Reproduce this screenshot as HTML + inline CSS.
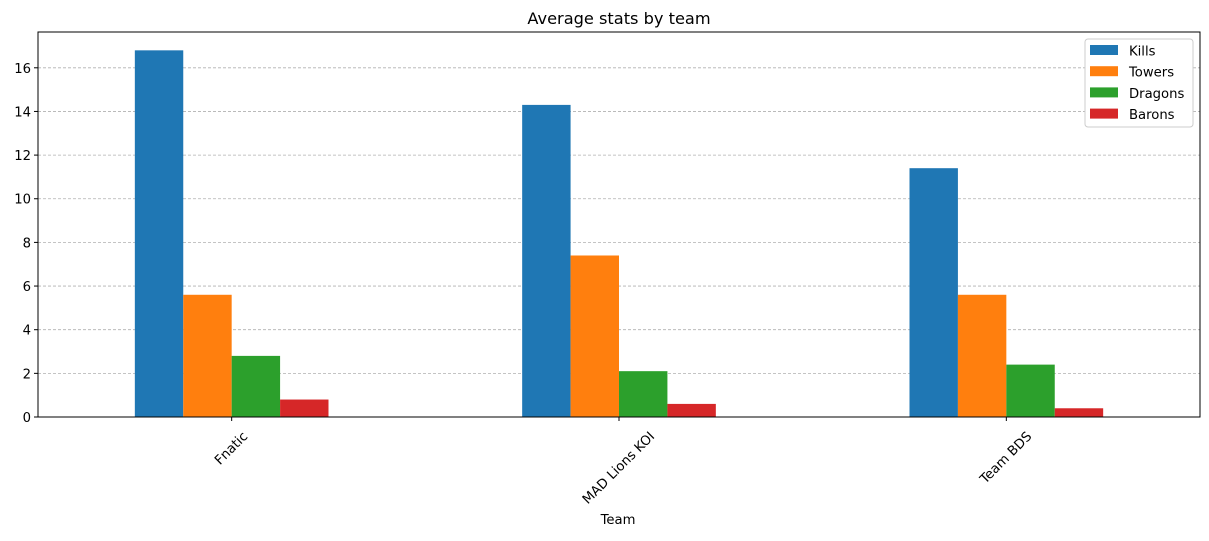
<!DOCTYPE html>
<html><head><meta charset="utf-8"><style>
body{margin:0;background:#fff;font-family:"DejaVu Sans",sans-serif}
</style></head><body>
<svg id="chart" width="1209" height="537" xmlns="http://www.w3.org/2000/svg" font-family="DejaVu Sans, sans-serif"></svg>
<script>
const categories=["Fnatic","MAD Lions KOI","Team BDS"];
const seriesNames=["Kills","Towers","Dragons","Barons"];
const kills=[16.8,14.3,11.4];
const towers=[5.6,7.4,5.6];
const dragons=[2.8,2.1,2.4];
const barons=[0.8,0.6,0.4];
const yTicks=[0,2,4,6,8,10,12,14,16];
const colors=["#1f77b4","#ff7f0e","#2ca02c","#d62728"];
const series=[kills,towers,dragons,barons];
const L=38,R=1200,T=32,B=417,ymax=17.64;
const FS=13.2;
const ns="http://www.w3.org/2000/svg";
const svg=document.getElementById('chart');
function y(v){return B-v*(B-T)/ymax;}
function x(i){return L+(i+0.5)*(R-L)/categories.length;}
const unit=(R-L)/categories.length;
function mk(t,a,p){const e=document.createElementNS(ns,t);for(const k in a)e.setAttribute(k,a[k]);(p||svg).appendChild(e);return e;}
let e;
yTicks.forEach(v=>{
 e=mk('line',{x1:L,x2:R,y1:y(v),y2:y(v),stroke:'#b0b0b0','stroke-dasharray':'3,2','stroke-width':0.8});
 
 
 e=mk('line',{x1:L-4,x2:L,y1:y(v),y2:y(v),stroke:'#000'});
 
 
 e=mk('text',{x:L-7,y:y(v)+5,'text-anchor':'end','font-size':FS});e.textContent=v;
 
 
});
const bw=unit*0.125;
series.forEach((s,j)=>{s.forEach((v,i)=>{
 const x0=x(i)-2*bw+j*bw;
 e=mk('rect',{x:x0,y:y(v),width:bw,height:B-y(v),fill:colors[j]});
 
 
});});
categories.forEach((c,i)=>{
 e=mk('line',{x1:x(i),x2:x(i),y1:B,y2:B+4,stroke:'#000'});
 
 
 e=mk('text',{x:0,y:5,'text-anchor':'middle','font-size':FS});e.textContent=c;
 
 
 const w=e.getComputedTextLength();
 const half=(w+13)*0.7071/2;
 e.setAttribute('transform',`translate(${x(i)-1},${B+12+half}) rotate(-45)`);
});
e=mk('rect',{x:L,y:T,width:R-L,height:B-T,fill:'none',stroke:'#000','stroke-width':1});


e=mk('text',{x:(L+R)/2,y:24,'text-anchor':'middle','font-size':16.2});e.textContent='Average stats by team';


e=mk('text',{x:618,y:524,'text-anchor':'middle','font-size':FS});e.textContent='Team';


const lg=mk('g',{});


mk('rect',{x:1085,y:39,width:108,height:88,rx:3,fill:'#fff',stroke:'#ccc'},lg);
seriesNames.forEach((n,j)=>{
 const g=mk('g',{},lg);
 
 
 mk('rect',{x:1090,y:45+j*21.2,width:28,height:10,fill:colors[j]},g);
 const t=mk('text',{x:1129,y:55.5+j*21.2,'font-size':FS},g);t.textContent=n;
});
</script>
</body></html>
